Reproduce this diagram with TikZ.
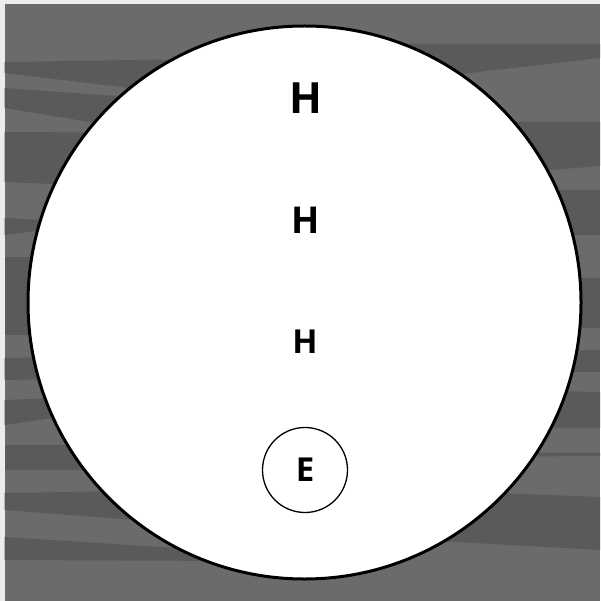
\documentclass[tikz,border=0pt]{standalone}
\usepackage{fontspec}
\setmainfont{Open Sans}[BoldFont={* Bold}]
\definecolor{bglight}{RGB}{107,107,107}
\definecolor{bgdark}{RGB}{90,90,90}
\definecolor{edgewhite}{RGB}{236,236,236}
\begin{document}
\begin{tikzpicture}[x=1pt,y=-1pt,
  band/.style={fill=bgdark,draw=none},
  bigcircle/.style={circle,draw=black,line width=3pt,fill=white,minimum size=553pt,inner sep=0pt},
  smallcircle/.style={circle,draw=black,line width=1.3pt,fill=white,minimum size=85pt,inner sep=0pt},
  label/.style={inner sep=0pt,font=\bfseries}]
\useasboundingbox (0,0) rectangle (600,601);
\fill[edgewhite] (0,0) rectangle (600,601);
\fill[bglight] (4.5,4.5) rectangle (600,601);
% left bands
\fill[band] (4.5,62)--(200,59)--(200,97)--(129,88)--(4.5,73)--cycle;
\fill[band] (4.5,88)--(200,102)--(200,140)--(4.5,108)--cycle;
\fill[band] (4.5,132)--(200,133)--(200,190)--(4.5,182)--cycle;
\fill[band] (4.5,218)--(60,221)--(60,228)--(4.5,235)--cycle;
\fill[band] (4.5,257)--(60,257)--(60,335)--(4.5,335)--cycle;
\fill[band] (4.5,358)--(60,357)--(60,379)--(4.5,380)--cycle;
\fill[band] (4.5,400)--(80,397)--(80,414)--(4.5,425)--cycle;
\fill[band] (4.5,445)--(120,445)--(120,470)--(4.5,470)--cycle;
\fill[band] (4.5,493)--(200,490)--(200,525)--(4.5,510)--cycle;
\fill[band] (4.5,537)--(240,552)--(240,561)--(4.5,560)--cycle;
% right bands
\fill[band] (380,44)--(600,44)--(600,58)--(470,73)--(380,85)--cycle;
\fill[band] (450,122)--(600,122)--(600,166)--(450,178)--cycle;
\fill[band] (500,190)--(600,190)--(600,235)--(500,235)--cycle;
\fill[band] (520,278)--(600,278)--(600,328)--(520,328)--cycle;
\fill[band] (520,350)--(600,350)--(600,372)--(520,372)--cycle;
\fill[band] (500,390)--(600,392)--(600,428)--(500,428)--cycle;
\fill[band] (430,452)--(600,453)--(600,456)--(430,457)--cycle;
\fill[band] (420,490)--(600,497)--(600,550)--(420,540)--cycle;
% main circle
\node[bigcircle] (main) at (304.5,302.5) {};
\node[smallcircle] (ecirc) at (305,470) {};
\node[label,font=\bfseries\fontsize{43}{43}\selectfont] (h1) at (305.5,98) {H};
\node[label,font=\bfseries\fontsize{37}{37}\selectfont] (h2) at (305.5,220) {H};
\node[label,font=\bfseries\fontsize{33}{33}\selectfont] (h3) at (305,341.5) {H};
\node[label,font=\bfseries\fontsize{33}{33}\selectfont] (e) at (ecirc.center) {E};
\end{tikzpicture}
\end{document}
